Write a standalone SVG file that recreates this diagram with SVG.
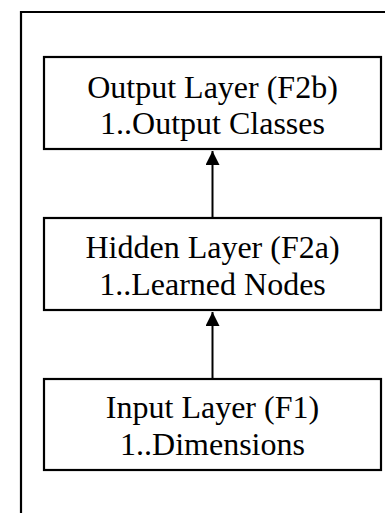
<svg xmlns="http://www.w3.org/2000/svg" width="385" height="513" viewBox="0 0 385 513">
  <defs>
    <style>
      .frame { fill: none; stroke: #000; stroke-width: 2.2; }
      .box { fill: #fff; stroke: #000; stroke-width: 2.2; }
      .lbl { font-family: "Liberation Serif", "Times New Roman", serif; font-size: 32px; fill: #000; text-anchor: middle; }
      .conn { fill: none; stroke: #000; stroke-width: 2; }
    </style>
    <marker id="arrow" markerUnits="userSpaceOnUse" markerWidth="16" markerHeight="16" refX="14" refY="7" orient="auto">
      <path d="M0,0 L14,7 L0,14 Z" fill="#000"/>
    </marker>
  </defs>
  <rect width="385" height="513" fill="#fff"/>
  <path class="frame" d="M21,513 V12 H390"/>
  <g id="output-layer">
    <rect class="box" x="44" y="57" width="337" height="92"/>
    <text class="lbl" x="212.5" y="98">Output Layer (F2b)</text>
    <text class="lbl" x="212.5" y="134">1..Output Classes</text>
  </g>
  <g id="hidden-layer">
    <rect class="box" x="44" y="218" width="337" height="92"/>
    <text class="lbl" x="212.5" y="258">Hidden Layer (F2a)</text>
    <text class="lbl" x="212.5" y="295">1..Learned Nodes</text>
  </g>
  <g id="input-layer">
    <rect class="box" x="44" y="379" width="337" height="91"/>
    <text class="lbl" x="212.5" y="418">Input Layer (F1)</text>
    <text class="lbl" x="212.5" y="455">1..Dimensions</text>
  </g>
  <g id="connectors">
    <line class="conn" x1="212.5" y1="217" x2="212.5" y2="151" marker-end="url(#arrow)"/>
    <line class="conn" x1="212.5" y1="378" x2="212.5" y2="312" marker-end="url(#arrow)"/>
  </g>
</svg>
